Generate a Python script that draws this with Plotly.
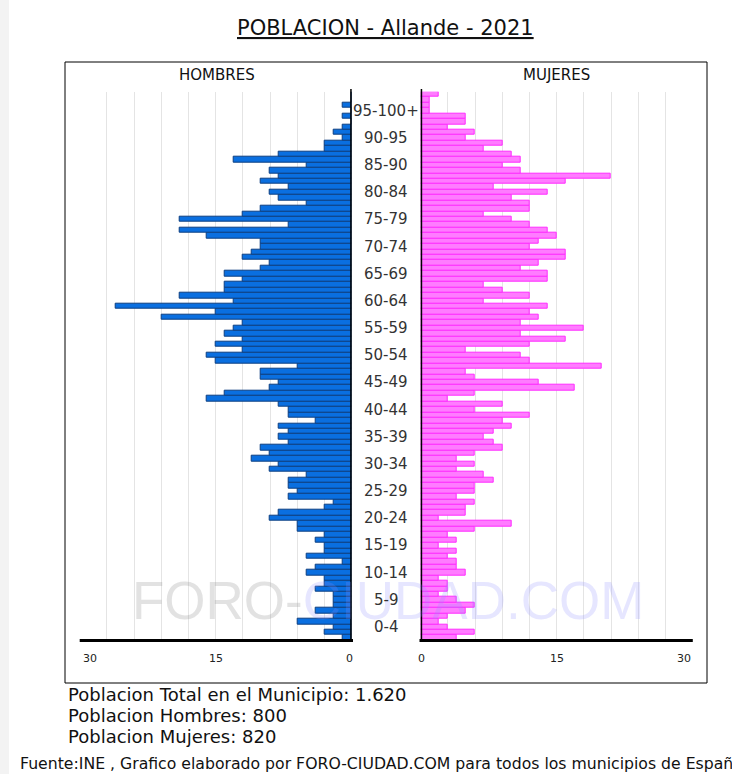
import plotly.graph_objects as go

# ---------------- data ----------------
ages = list(range(0, 101))
hombres = [1, 3, 2, 6, 2, 4, 2, 2, 2, 4,
           3, 3, 5, 4, 1, 5, 3, 3, 4, 3,
           6, 6, 9, 8, 3, 2, 7, 6, 7, 7,
           5, 9, 8, 11, 9, 10, 7, 8, 7, 8,
           4, 7, 7, 8, 16, 14, 9, 8, 10, 10,
           6, 15, 16, 12, 15, 12, 14, 13, 12, 21,
           15, 26, 13, 19, 14, 14, 12, 14, 10, 9,
           12, 11, 10, 10, 16, 19, 7, 19, 12, 10,
           5, 8, 9, 7, 10, 8, 9, 5, 13, 8,
           3, 3, 1, 2, 1, 0, 1, 0, 1, 0, 0]
mujeres = [4, 6, 3, 2, 3, 5, 6, 4, 2, 3,
           3, 2, 5, 4, 4, 3, 4, 2, 4, 3,
           6, 10, 2, 5, 5, 6, 4, 6, 6, 8,
           7, 4, 6, 4, 6, 9, 8, 7, 8, 10,
           9, 12, 6, 9, 3, 6, 17, 13, 6, 5,
           20, 12, 11, 5, 12, 16, 11, 18, 11, 13,
           12, 14, 7, 12, 9, 7, 14, 14, 11, 13,
           16, 16, 12, 13, 15, 14, 12, 10, 7, 12,
           12, 10, 14, 8, 16, 21, 11, 9, 11, 10,
           7, 9, 5, 6, 3, 5, 5, 1, 1, 1, 2]
group_labels = ["0-4", "5-9", "10-14", "15-19", "20-24", "25-29", "30-34", "35-39",
                "40-44", "45-49", "50-54", "55-59", "60-64", "65-69", "70-74", "75-79",
                "80-84", "85-90", "90-95", "95-100+"]
x_tick_values = [30, 15, 0]
grid_values = [3, 6, 9, 12, 15, 18, 21, 24, 27]
title_text = "POBLACION - Allande - 2021"
info_lines = ["Poblacion Total en el Municipio: 1.620",
              "Poblacion Hombres: 800",
              "Poblacion Mujeres: 820"]
footer_text = "Fuente:INE , Grafico elaborado por FORO-CIUDAD.COM para todos los municipios de España"

# ---------------- layout helpers ----------------
W, H = 732, 774
FONT = "DejaVu Sans, Verdana, sans-serif"


def fx(p):
    return p / W


def fy(p):
    return 1 - p / H


def text_ann(**kw):
    base = dict(showarrow=False, xanchor="center", yanchor="middle")
    base.update(kw)
    return base


fig = go.Figure()
fig.add_trace(go.Bar(
    y=ages, x=hombres, orientation="h", xaxis="x", yaxis="y", width=1,
    marker=dict(color="#0a6fe0", line=dict(color="#0d3f80", width=1)),
    hoverinfo="x+y", name="Hombres"))
fig.add_trace(go.Bar(
    y=ages, x=mujeres, orientation="h", xaxis="x2", yaxis="y", width=1,
    marker=dict(color="#ff7cff", line=dict(color="#ff2cff", width=1)),
    hoverinfo="x+y", name="Mujeres"))

axis_common = dict(tickvals=grid_values, showticklabels=False, showgrid=True,
                   gridcolor="#e4e4e4", gridwidth=1, zeroline=False,
                   showline=False, ticks="", fixedrange=True)

fig.update_layout(
    width=W, height=H,
    margin=dict(l=0, r=0, t=0, b=0),
    paper_bgcolor="white", plot_bgcolor="rgba(0,0,0,0)",
    showlegend=False, bargap=0,
    font=dict(family=FONT, color="#222"),
    xaxis=dict(domain=[fx(79.7), fx(351.7)], range=[30, 0], anchor="y", **axis_common),
    xaxis2=dict(domain=[fx(420.7), fx(692.8)], range=[0, 30], anchor="y", **axis_common),
    yaxis=dict(domain=[fy(640.6), fy(91.7)], range=[-0.5, 100.5], visible=False,
               fixedrange=True),
)

shapes = []
# light left strip of the page
shapes.append(dict(type="rect", xref="paper", yref="paper", x0=0, x1=fx(9), y0=0, y1=1,
                   fillcolor="#f3f3f3", line=dict(width=0), layer="below"))
# outer box
shapes.append(dict(type="rect", xref="paper", yref="paper", x0=fx(65), x1=fx(707),
                   y0=fy(683), y1=fy(62), line=dict(color="black", width=1)))
# vertical axis lines
for xr in ("x", "x2"):
    shapes.append(dict(type="line", xref=xr, yref="paper", x0=0, x1=0,
                       y0=fy(641.5), y1=fy(89), line=dict(color="black", width=3)))
# bottom axis lines
shapes.append(dict(type="line", xref="paper", yref="paper", x0=fx(79.7), x1=fx(353),
                   y0=fy(640.5), y1=fy(640.5), line=dict(color="black", width=3)))
shapes.append(dict(type="line", xref="paper", yref="paper", x0=fx(419.5), x1=fx(692.8),
                   y0=fy(640.5), y1=fy(640.5), line=dict(color="black", width=3)))
fig.update_layout(shapes=shapes)

ann = []
# watermark
ann.append(text_ann(xref="paper", yref="paper", x=fx(388), y=fy(600),
                    text="<span style='color:rgba(150,150,150,0.28)'>FORO-</span>"
                         "<span style='color:rgba(140,140,255,0.22)'>CIUDAD.COM</span>",
                    font=dict(family="Liberation Sans, Arial, sans-serif", size=53)))
# title
ann.append(text_ann(xref="paper", yref="paper", x=fx(385), y=fy(28),
                    text="<u>" + title_text + "</u>", font=dict(size=21, color="#111")))
# panel headers
ann.append(text_ann(xref="paper", yref="paper", x=fx(217), y=fy(75),
                    text="HOMBRES", font=dict(size=15, color="#111")))
ann.append(text_ann(xref="paper", yref="paper", x=fx(556), y=fy(75),
                    text="MUJERES", font=dict(size=15, color="#111")))
# axis tick labels
TY = fy(658)
for v in x_tick_values:
    if v == 30:
        ann.append(text_ann(xref="x", yref="paper", x=v, y=TY, xanchor="left", xshift=1,
                            text=str(v), font=dict(size=11)))
        ann.append(text_ann(xref="x2", yref="paper", x=v, y=TY, xanchor="right",
                            text=str(v), font=dict(size=11)))
    elif v == 0:
        ann.append(text_ann(xref="x", yref="paper", x=v, y=TY, xshift=-2,
                            text=str(v), font=dict(size=11)))
        ann.append(text_ann(xref="x2", yref="paper", x=v, y=TY, xshift=1,
                            text=str(v), font=dict(size=11)))
    else:
        ann.append(text_ann(xref="x", yref="paper", x=v, y=TY,
                            text=str(v), font=dict(size=11)))
        ann.append(text_ann(xref="x2", yref="paper", x=v, y=TY,
                            text=str(v), font=dict(size=11)))
# age group labels
for i, lab in enumerate(group_labels):
    ann.append(text_ann(xref="paper", yref="y", x=fx(386), y=5 * i + 2,
                        text=lab, font=dict(size=15, color="#333")))
# info lines
for j, line in enumerate(info_lines):
    ann.append(text_ann(xref="paper", yref="paper", x=fx(66), y=fy(694 + 21 * j),
                        xanchor="left", text=line, font=dict(size=18, color="#111")))
# footer
ann.append(text_ann(xref="paper", yref="paper", x=fx(18), y=fy(763), xanchor="left",
                    text=footer_text, font=dict(size=15.7, color="#111")))
fig.update_layout(annotations=ann)

fig.write_html("out.html", config={"displayModeBar": False},
               post_script="document.body.style.margin='0';document.body.style.overflow='hidden';")
